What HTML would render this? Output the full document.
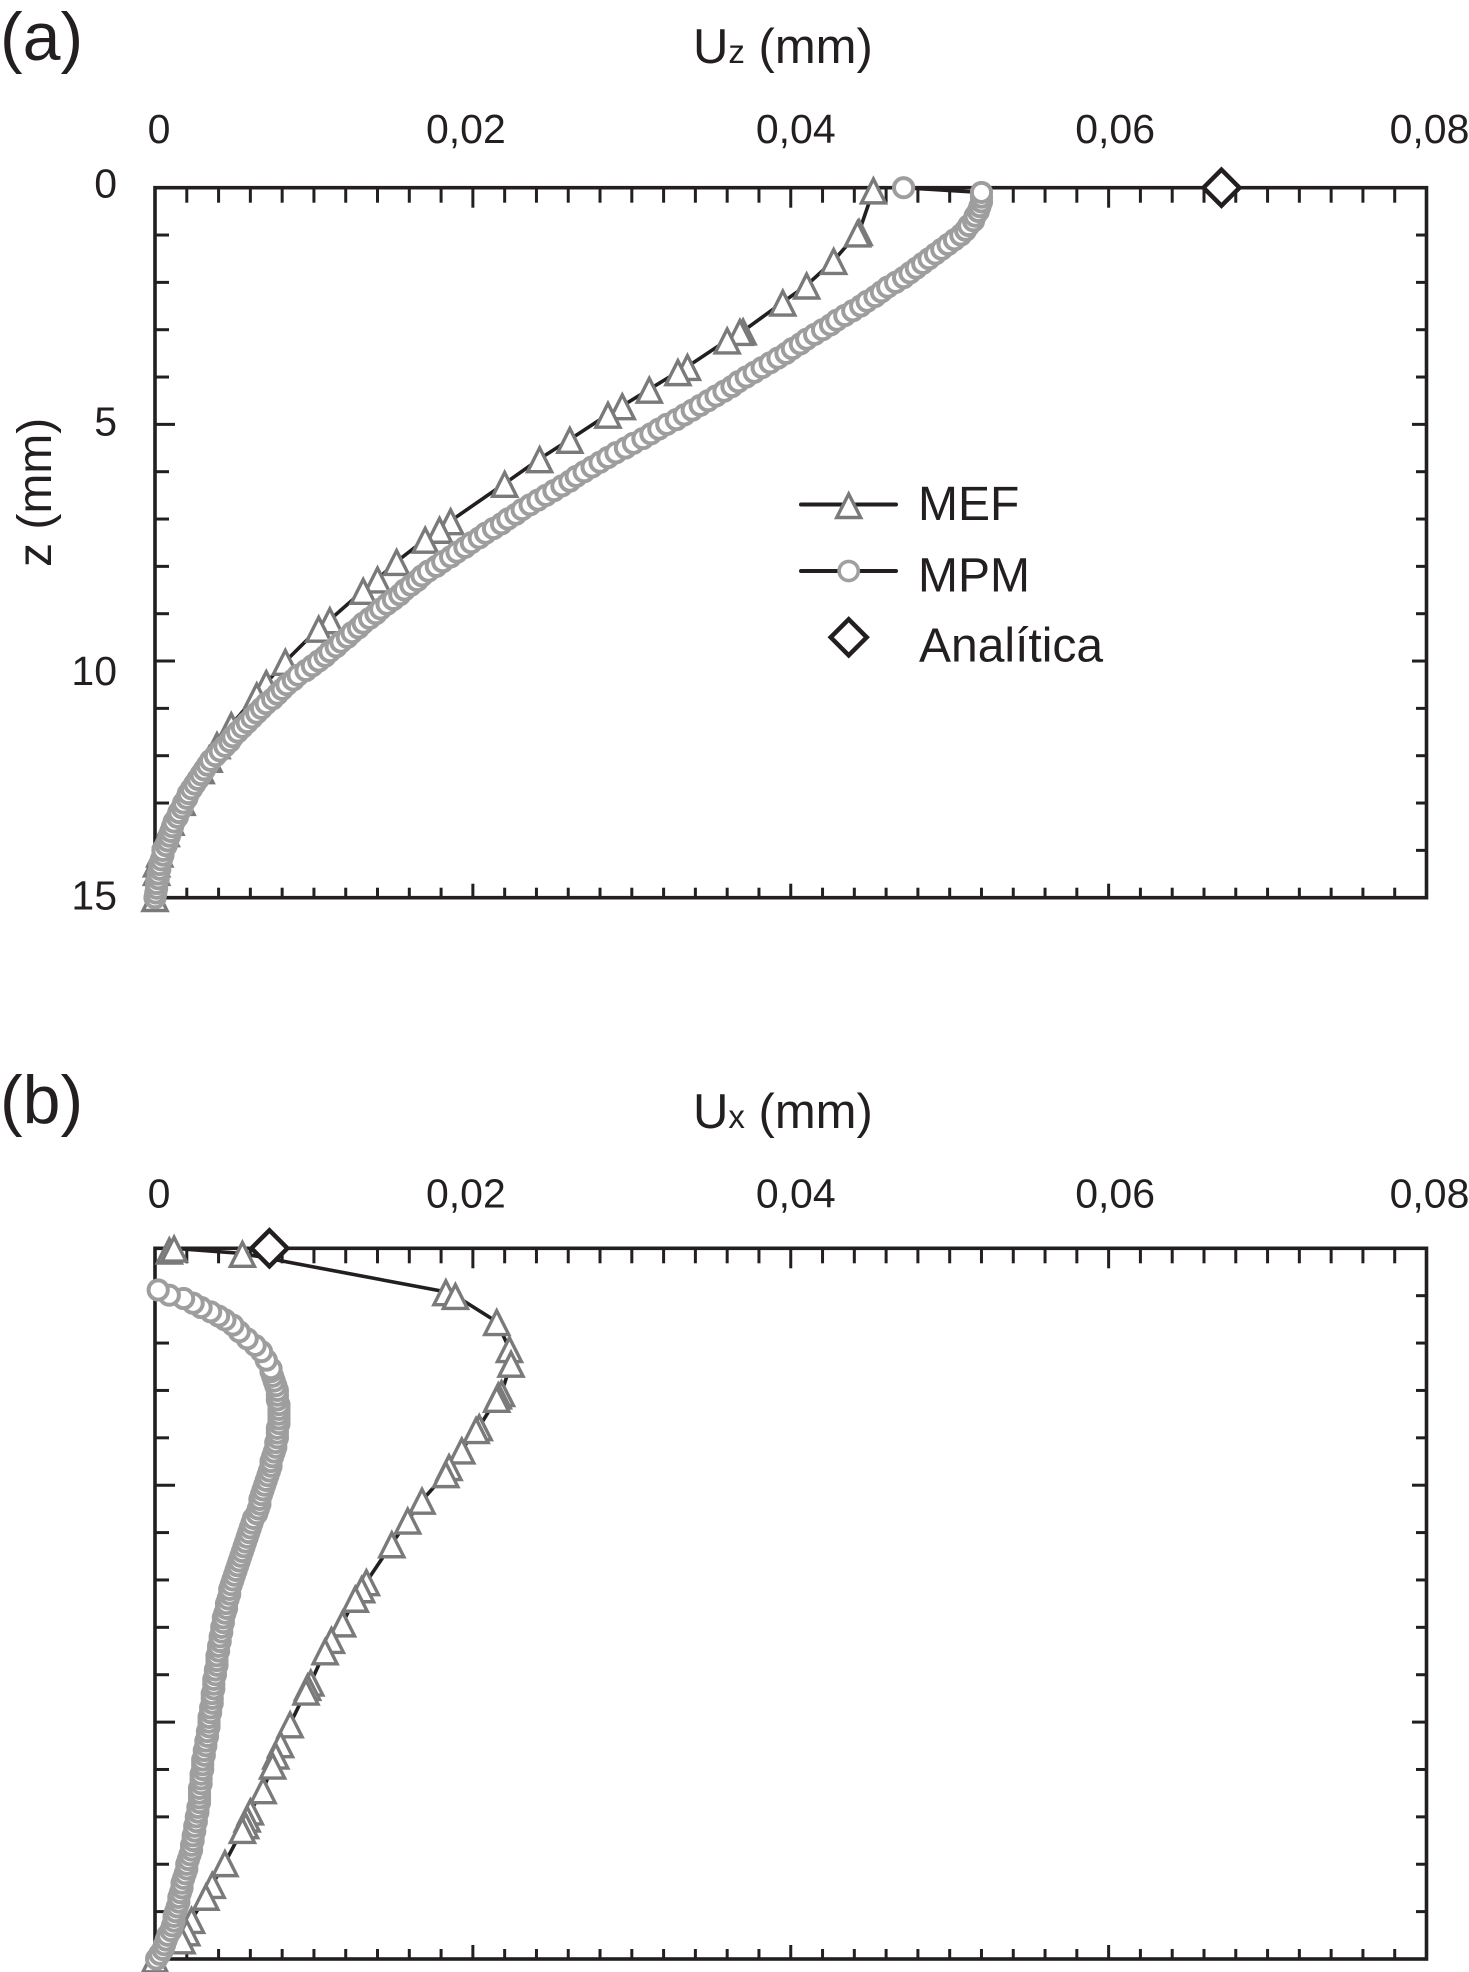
<!DOCTYPE html>
<html lang="es">
<head>
<meta charset="utf-8">
<title>Uz and Ux profiles</title>
<style>
html,body{margin:0;padding:0;background:#fff;}
svg{display:block;}
text{font-family:"Liberation Sans",sans-serif;fill:#231f20;}
</style>
</head>
<body>
<svg id="chart" xmlns="http://www.w3.org/2000/svg" width="1469" height="1972" viewBox="0 0 1469 1972">
  <rect x="0" y="0" width="1469" height="1972" fill="#fff"/>
  <text x="0" y="60" font-size="68">(a)</text>
  <text x="0" y="1123" font-size="68">(b)</text>
  <text x="693" y="63" font-size="49">U<tspan font-size="33">z</tspan> (mm)</text>
  <text x="693" y="1128" font-size="49">U<tspan font-size="33">x</tspan> (mm)</text>
  <text transform="translate(51,567) rotate(-90)" font-size="48">z (mm)</text>
  <g id="plotA"></g>
  <g id="plotB"></g>
  <g>
    <g>
      <line x1="801" y1="504.5" x2="896" y2="504.5" stroke="#231f20" stroke-width="4" stroke-linecap="round"/>
      <path d="M848.7 494L860.7 517.5L836.7 517.5Z" fill="#fff" stroke="#7a7a7a" stroke-width="3.4"/>
      <text x="918" y="520" font-size="48">MEF</text>
    </g>
    <g>
      <line x1="801" y1="571" x2="896" y2="571" stroke="#231f20" stroke-width="4" stroke-linecap="round"/>
      <circle cx="848.7" cy="571" r="9.6" fill="#fff" stroke="#a0a0a0" stroke-width="3.6"/>
      <text x="918" y="591.5" font-size="48">MPM</text>
    </g>
    <g>
      <path d="M848.7 619.3L866.7 637.3L848.7 655.3L830.7 637.3Z" fill="#fff" stroke="#231f20" stroke-width="4.5"/>
      <text x="919" y="661.5" font-size="48">Analítica</text>
    </g>
  </g>
</svg>
<script>
// Axis labels
const xTickLabels = ['0', '0,02', '0,04', '0,06', '0,08'];
const zTickLabels = ['0', '5', '10', '15'];

// Panel (a): Uz (mm) against depth z (mm)
const mefZA = [0.05, 0.93, 0.96, 1.54, 2.06, 2.42, 3.03, 3.04, 3.22, 3.78, 3.89, 4.26, 4.61, 4.79, 5.32, 5.73, 6.25, 7.04, 7.22, 7.43, 7.9, 8.27, 8.51, 9.13, 9.31, 10.01, 10.46, 10.72, 11.35, 11.77, 12.06, 12.3, 12.97, 13.39, 13.63, 14.06, 14.27, 14.45, 15];
const mefUzA = [0.0452, 0.0443, 0.0442, 0.0427, 0.041, 0.0395, 0.037, 0.0368, 0.036, 0.0335, 0.0329, 0.0311, 0.0294, 0.0285, 0.0261, 0.0242, 0.022, 0.0186, 0.0179, 0.017, 0.0152, 0.014, 0.0131, 0.011, 0.0103, 0.0082, 0.007, 0.0064, 0.0048, 0.0039, 0.0034, 0.0029, 0.0017, 0.001, 0.0007, 0.0003, 0.0001, 0.0001, 0];
const mpmZA = [
  0,0.1,0.2,0.3,0.4,0.5,0.6,0.7,0.8,0.9,
  1,1.1,1.2,1.3,1.4,1.5,1.6,1.7,1.8,1.9,
  2,2.1,2.2,2.3,2.4,2.5,2.6,2.7,2.8,2.9,
  3,3.1,3.2,3.3,3.4,3.5,3.6,3.7,3.8,3.9,
  4,4.1,4.2,4.3,4.4,4.5,4.6,4.7,4.8,4.9,
  5,5.1,5.2,5.3,5.4,5.5,5.6,5.7,5.8,5.9,
  6,6.1,6.2,6.3,6.4,6.5,6.6,6.7,6.8,6.9,
  7,7.1,7.2,7.3,7.4,7.5,7.6,7.7,7.8,7.9,
  8,8.1,8.2,8.3,8.4,8.5,8.6,8.7,8.8,8.9,
  9,9.1,9.2,9.3,9.4,9.5,9.6,9.7,9.8,9.9,
  10,10.1,10.2,10.3,10.4,10.5,10.6,10.7,10.8,10.9,
  11,11.1,11.2,11.3,11.4,11.5,11.6,11.7,11.8,11.9,
  12,12.1,12.2,12.3,12.4,12.5,12.6,12.7,12.8,12.9,
  13,13.1,13.2,13.3,13.4,13.5,13.6,13.7,13.8,13.9,
  14,14.1,14.2,14.3,14.4,14.5,14.6,14.7,14.8,14.9,
  15];
const mpmUzA = [
  0.0471,0.052,0.052,0.052,0.0519,0.0518,0.0516,0.0515,0.0512,0.051,
  0.0507,0.0503,0.0499,0.0495,0.0491,0.0487,0.0483,0.0479,0.0475,0.0471,
  0.0466,0.0461,0.0457,0.0453,0.0448,0.0444,0.0439,0.0434,0.0429,0.0425,
  0.042,0.0415,0.041,0.0406,0.0401,0.0397,0.0392,0.0387,0.0382,0.0377,
  0.0372,0.0367,0.0363,0.0358,0.0353,0.0348,0.0343,0.0338,0.0333,0.0328,
  0.0322,0.0317,0.0312,0.0307,0.0301,0.0296,0.029,0.0285,0.028,0.0275,
  0.027,0.0265,0.0261,0.0256,0.0251,0.0246,0.0241,0.0236,0.0231,0.0227,
  0.0222,0.0218,0.0213,0.0208,0.0204,0.0199,0.0195,0.019,0.0186,0.0181,
  0.0177,0.0172,0.0168,0.0165,0.0161,0.0157,0.0154,0.015,0.0146,0.0142,
  0.0139,0.0135,0.0131,0.0128,0.0124,0.0121,0.0117,0.0114,0.011,0.0107,
  0.0103,0.0099,0.0095,0.009,0.0087,0.0083,0.008,0.0077,0.0074,0.007,
  0.0067,0.0064,0.0061,0.0058,0.0055,0.0052,0.0049,0.0047,0.0044,0.0041,
  0.0038,0.0035,0.0033,0.0031,0.0029,0.0027,0.0025,0.0023,0.0021,0.002,
  0.0018,0.0017,0.0015,0.0014,0.0012,0.0011,0.001,0.0009,0.0008,0.0007,
  0.0005,0.0005,0.0004,0.0003,0.0003,0.0002,0.0002,0.0001,0.0001,0.00005,
  0];
const analyticZA = [0];
const analyticUzA = [0.0671];

// Panel (b): Ux (mm) against depth z (mm)
const mefZB = [0.04, 0, 0.11, 0.92, 1.0, 1.55, 2.12, 2.43, 3.05, 3.1, 3.17, 3.77, 3.83, 4.26, 4.61, 4.76, 5.32, 5.74, 6.24, 7.04, 7.19, 7.39, 7.91, 8.26, 8.5, 9.16, 9.25, 9.35, 10.04, 10.46, 10.7, 10.91, 11.43, 11.88, 12.03, 12.17, 12.27, 12.97, 13.43, 13.68, 14.17, 14.43, 14.6, 15];
const mefUxB = [0.0009, 0.0012, 0.0055, 0.0183, 0.0189, 0.0215, 0.0223, 0.0224, 0.0218, 0.0216, 0.0215, 0.0204, 0.0202, 0.0193, 0.0185, 0.0183, 0.0168, 0.0159, 0.0149, 0.0133, 0.013, 0.0126, 0.0118, 0.0111, 0.0107, 0.0098, 0.0096, 0.0095, 0.0085, 0.0079, 0.0076, 0.0074, 0.0068, 0.006, 0.0058, 0.0057, 0.0055, 0.0044, 0.0036, 0.0032, 0.0023, 0.002, 0.0017, 0];
const mpmZB = [
  0.88,0.99,1.06,1.16,1.25,1.34,1.43,1.51,1.62,1.76,1.91,2.05,2.18,2.36,2.54,
  2.6,2.7,2.8,2.9,
  3,3.1,3.2,3.3,3.4,3.5,3.6,3.7,3.8,3.9,
  4,4.1,4.2,4.3,4.4,4.5,4.6,4.7,4.8,4.9,
  5,5.1,5.2,5.3,5.4,5.5,5.6,5.7,5.8,5.9,
  6,6.1,6.2,6.3,6.4,6.5,6.6,6.7,6.8,6.9,
  7,7.1,7.2,7.3,7.4,7.5,7.6,7.7,7.8,7.9,
  8,8.1,8.2,8.3,8.4,8.5,8.6,8.7,8.8,8.9,
  9,9.1,9.2,9.3,9.4,9.5,9.6,9.7,9.8,9.9,
  10,10.1,10.2,10.3,10.4,10.5,10.6,10.7,10.8,10.9,
  11,11.1,11.2,11.3,11.4,11.5,11.6,11.7,11.8,11.9,
  12,12.1,12.2,12.3,12.4,12.5,12.6,12.7,12.8,12.9,
  13,13.1,13.2,13.3,13.4,13.5,13.6,13.7,13.8,13.9,
  14,14.1,14.2,14.3,14.4,14.5,14.6,14.7,14.8,14.9,
  15];
const mpmUxB = [
  0.0002,0.0009,0.0018,0.0024,0.0029,0.0035,0.004,0.0044,0.0049,0.0053,0.0058,0.0063,0.0067,0.007,0.0073,
  0.0073,0.0074,0.0075,0.0076,
  0.0077,0.0077,0.0077,0.0078,0.0078,0.0078,0.0078,0.0078,0.0077,0.0077,
  0.0077,0.0076,0.0076,0.0075,0.0074,0.0073,0.0073,0.0072,0.0071,0.007,
  0.0069,0.0068,0.0067,0.0066,0.0066,0.0065,0.0064,0.0062,0.0061,0.006,
  0.0059,0.0058,0.0057,0.0056,0.0055,0.0054,0.0053,0.0052,0.0051,0.005,
  0.0049,0.0048,0.0047,0.0047,0.0046,0.0045,0.0045,0.0044,0.0043,0.0043,
  0.0042,0.0042,0.0041,0.0041,0.004,0.004,0.0039,0.0039,0.0039,0.0038,
  0.0038,0.0037,0.0037,0.0037,0.0036,0.0036,0.0036,0.0035,0.0035,0.0034,
  0.0034,0.0034,0.0033,0.0033,0.0032,0.0032,0.0031,0.0031,0.003,0.003,
  0.003,0.0029,0.0029,0.0029,0.0028,0.0028,0.0028,0.0028,0.0027,0.0027,
  0.0026,0.0026,0.0025,0.0025,0.0024,0.0024,0.0023,0.0023,0.0022,0.0021,
  0.002,0.002,0.0019,0.0018,0.0017,0.0017,0.0016,0.0015,0.0015,0.0014,
  0.0013,0.0012,0.0012,0.0011,0.001,0.0008,0.0007,0.0006,0.0005,0.0003,
  0.0001];
const analyticZB = [0];
const analyticUxB = [0.0072];

// Hand placement of the printed labels relative to their ticks
const xLabelNudge = [4, -7, 5, 6.5, 3];
const zLabelNudge = [10, 11, 24, 12];

const SVG_NS = 'http://www.w3.org/2000/svg';
const INK = '#231f20';
const X_MAX = 0.08;
const Z_MAX = 15;
const X_DIVISIONS = 40;
const X_MAJOR_EVERY = 10;
const Z_MAJOR_EVERY = 5;

function node(parent, tag, attrs) {
  const el = document.createElementNS(SVG_NS, tag);
  for (const k in attrs) el.setAttribute(k, attrs[k]);
  parent.appendChild(el);
  return el;
}

function drawPanel(opts) {
  const root = document.getElementById(opts.id);
  const left = 155, right = 1426.5, top = opts.top, bottom = opts.bottom;
  const xScale = v => left + (v / X_MAX) * (right - left);
  const zScale = v => top + (v / Z_MAX) * (bottom - top);

  // tick marks
  for (let i = 1; i < X_DIVISIONS; i++) {
    const major = i % X_MAJOR_EVERY === 0;
    const px = xScale(X_MAX * i / X_DIVISIONS);
    const t = node(root, 'line', {x1: px, x2: px, y1: top, y2: top + (major ? 20 : 15), stroke: INK, 'stroke-width': 3});
    
    
    const b = node(root, 'line', {x1: px, x2: px, y1: bottom, y2: bottom - (major ? 14 : 10), stroke: INK, 'stroke-width': 3});
    
    
  }
  for (let z = 1; z < Z_MAX; z++) {
    const major = z % Z_MAJOR_EVERY === 0;
    const py = zScale(z);
    const l = node(root, 'line', {x1: left, x2: left + (major ? 20 : 14), y1: py, y2: py, stroke: INK, 'stroke-width': 3});
    
    
    const r = node(root, 'line', {x1: right, x2: right - (major ? 14.5 : 10.5), y1: py, y2: py, stroke: INK, 'stroke-width': 3});
    
    
  }

  // plot frame
  const frame = node(root, 'rect', {x: left, y: top, width: right - left, height: bottom - top, fill: 'none', stroke: INK, 'stroke-width': 3.6});
  
  

  // tick labels
  xTickLabels.forEach((label, i) => {
    const t = node(root, 'text', {x: xScale(X_MAX * i / (xTickLabels.length - 1)) + xLabelNudge[i], y: opts.xLabelY, 'font-size': 41, 'text-anchor': 'middle'});
    t.textContent = label;
    
    
  });
  if (opts.zLabels) {
    zTickLabels.forEach((label, i) => {
      const t = node(root, 'text', {x: 117, y: zScale(Z_MAX * i / (zTickLabels.length - 1)) + zLabelNudge[i], 'font-size': 41, 'text-anchor': 'end'});
      t.textContent = label;
      
      
    });
  }

  // connecting lines
  const pts = (xs, zs) => xs.map((v, i) => xScale(v).toFixed(1) + ',' + zScale(zs[i]).toFixed(1)).join(' ');
  const mpmLine = node(root, 'polyline', {points: pts(opts.mpmX, opts.mpmZ), fill: 'none', stroke: INK, 'stroke-width': 3.6});
  
  
  const mefLine = node(root, 'polyline', {points: pts(opts.mefX, opts.mefZ), fill: 'none', stroke: INK, 'stroke-width': 3.6});
  
  

  // MEF triangles: deeper markers sit on top
  opts.mefX.forEach((v, i) => {
    const px = xScale(v), py = zScale(opts.mefZ[i]);
    const d = 'M' + px + ' ' + (py - 11) + 'L' + (px + 12) + ' ' + (py + 12.8) + 'L' + (px - 12) + ' ' + (py + 12.8) + 'Z';
    const m = node(root, 'path', {d: d, fill: '#fff', stroke: '#7a7a7a', 'stroke-width': 3.4});
    
    
  });

  // MPM circles: shallower markers sit on top
  for (let i = opts.mpmX.length - 1; i >= 0; i--) {
    const m = node(root, 'circle', {cx: xScale(opts.mpmX[i]), cy: zScale(opts.mpmZ[i]), r: 9.6, fill: '#fff', stroke: '#9e9e9e', 'stroke-width': 4});
    
    
  }

  // analytic diamonds
  opts.anaX.forEach((v, i) => {
    const px = xScale(v), py = zScale(opts.anaZ[i]);
    const d = 'M' + px + ' ' + (py - 18) + 'L' + (px + 18) + ' ' + py + 'L' + px + ' ' + (py + 18) + 'L' + (px - 18) + ' ' + py + 'Z';
    const m = node(root, 'path', {d: d, fill: '#fff', stroke: INK, 'stroke-width': 4.5});
    
    
  });
}

drawPanel({id: 'plotA', top: 187.7, bottom: 897.7, xLabelY: 143, zLabels: true,
  mefX: mefUzA, mefZ: mefZA, mpmX: mpmUzA, mpmZ: mpmZA, anaX: analyticUzA, anaZ: analyticZA});
drawPanel({id: 'plotB', top: 1248.3, bottom: 1959, xLabelY: 1207.7, zLabels: false,
  mefX: mefUxB, mefZ: mefZB, mpmX: mpmUxB, mpmZ: mpmZB, anaX: analyticUxB, anaZ: analyticZB});
</script>
</body>
</html>
